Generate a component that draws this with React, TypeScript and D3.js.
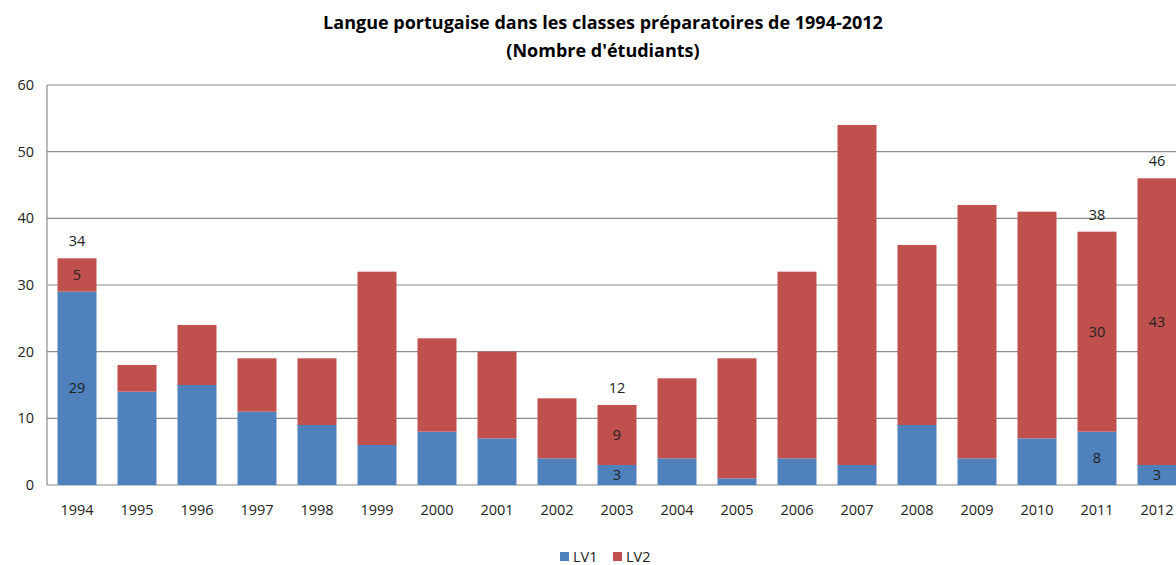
import React from 'react';
import * as d3 from 'd3';

const years = ['1994', '1995', '1996', '1997', '1998', '1999', '2000', '2001', '2002', '2003', '2004', '2005', '2006', '2007', '2008', '2009', '2010', '2011', '2012'];
const lv1 = [29, 14, 15, 11, 9, 6, 8, 7, 4, 3, 4, 1, 4, 3, 9, 4, 7, 8, 3];
const lv2 = [5, 4, 9, 8, 10, 26, 14, 13, 9, 9, 12, 18, 28, 51, 27, 38, 34, 30, 43];
// years whose values are written on the bars
const labelled = ['1994', '2003', '2011', '2012'];
const yTicks = [0, 10, 20, 30, 40, 50, 60];

const width = 1176;
const height = 565;
const font = "'Open Sans', 'Noto Sans', sans-serif";
const blue = '#4F81BD';
const red = '#C0504D';
const fs = 14.5;

export default function App() {
    const x = d3.scaleBand().domain(years).range([47, 1187]).paddingInner(0.35).paddingOuter(0.175);
    const y = d3.scaleLinear().domain([0, 60]).range([485, 85]);

    const rows = years.map((yr, i) => ({ year: yr, lv1: lv1[i], lv2: lv2[i] }));
    const series = d3.stack<any>().keys(['lv1', 'lv2'])(rows);
    const colors = [blue, red];

    return (
        <svg width={width} height={height} style={{ position: 'absolute', left: 0, top: 0, background: '#fff' }}>
            <text x={603} y={29} textAnchor="middle" fontFamily={font} fontWeight="bold" fontSize={18}>
                Langue portugaise dans les classes préparatoires de 1994-2012
            </text>
            <text x={603} y={57} textAnchor="middle" fontFamily={font} fontWeight="bold" fontSize={18}>
                (Nombre d'étudiants)
            </text>

            {yTicks.map((t) => (
                <g key={t}>
                    <line x1={47} x2={width} y1={y(t)} y2={y(t)} stroke="#8c8c8c" strokeWidth={1.2} />
                    <text x={34} y={y(t)} dy="0.35em" textAnchor="end" fontFamily={font} fontSize={fs} fill="#222">
                        {t}
                    </text>
                </g>
            ))}
            <line x1={47} x2={47} y1={y(60)} y2={y(0)} stroke="#8c8c8c" strokeWidth={1.2} />

            {series.map((s, si) => (
                <g key={s.key} fill={colors[si]}>
                    {s.map((d: any) => (
                        <rect key={d.data.year} x={x(d.data.year)} width={x.bandwidth()} y={y(d[1])} height={y(d[0]) - y(d[1])} />
                    ))}
                </g>
            ))}

            {rows.filter((r) => labelled.includes(r.year)).map((r) => {
                const cx = (x(r.year) as number) + x.bandwidth() / 2;
                const tot = r.lv1 + r.lv2;
                return (
                    <g key={r.year} fontFamily={font} fontSize={fs} textAnchor="middle" fill="#222">
                        <text x={cx} y={y(r.lv1 / 2)} dy="0.35em">{r.lv1}</text>
                        <text x={cx} y={y(r.lv1 + r.lv2 / 2)} dy="0.35em">{r.lv2}</text>
                        <text x={cx} y={y(tot) - 17} dy="0.35em">{tot}</text>
                    </g>
                );
            })}

            {years.map((yr) => (
                <text key={yr} x={(x(yr) as number) + x.bandwidth() / 2} y={510} dy="0.35em" textAnchor="middle" fontFamily={font} fontSize={fs} fill="#222">
                    {yr}
                </text>
            ))}

            <g fontFamily={font} fontSize={fs} fill="#222">
                <rect x={560} y={552} width={9} height={9} fill={blue} />
                <text x={573} y={557} dy="0.35em">LV1</text>
                <rect x={613} y={552} width={9} height={9} fill={red} />
                <text x={626} y={557} dy="0.35em">LV2</text>
            </g>
        </svg>
    );
}
